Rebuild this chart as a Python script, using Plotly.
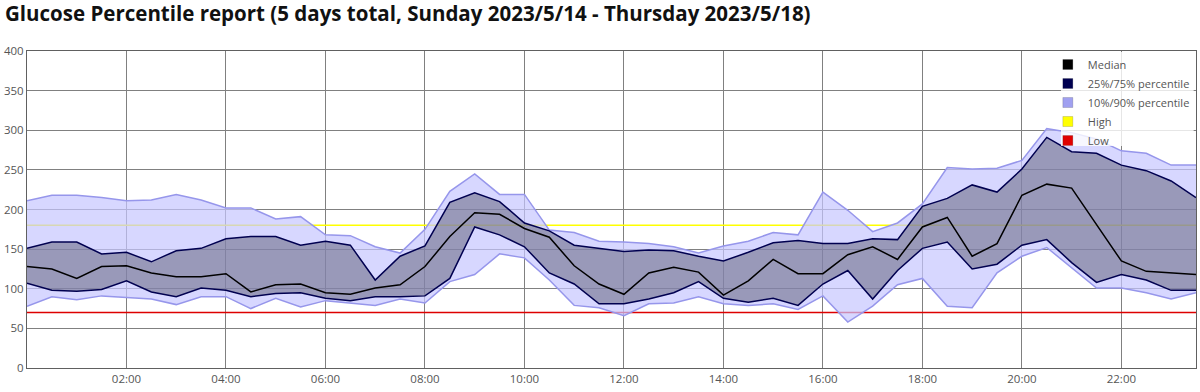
import plotly.graph_objects as go

# ---------------- data ----------------
TIMES = ["00:00", "00:30", "01:00", "01:30", "02:00", "02:30", "03:00", "03:30",
         "04:00", "04:30", "05:00", "05:30", "06:00", "06:30", "07:00", "07:30",
         "08:00", "08:30", "09:00", "09:30", "10:00", "10:30", "11:00", "11:30",
         "12:00", "12:30", "13:00", "13:30", "14:00", "14:30", "15:00", "15:30",
         "16:00", "16:30", "17:00", "17:30", "18:00", "18:30", "19:00", "19:30",
         "20:00", "20:30", "21:00", "21:30", "22:00", "22:30", "23:00", "23:30"]

P90 = [211, 218, 218, 215, 211, 212, 219, 212,
       202, 202, 188, 191, 168, 167, 153, 145,
       175, 223, 245, 219, 219, 174, 171, 160,
       159, 157, 153, 145, 154, 160, 171, 168,
       222, 199, 172, 183, 207, 253, 251, 252,
       262, 302, 297, 289, 274, 271, 256, 256]

P75 = [151, 159, 159, 144, 146, 134, 148, 151,
       163, 166, 166, 155, 160, 155, 111, 141,
       154, 209, 221, 210, 183, 173, 155, 151,
       147, 149, 148, 141, 135, 146, 158, 161,
       157, 157, 163, 162, 204, 214, 231, 222,
       251, 291, 273, 271, 256, 249, 236, 215]

MEDIAN = [128, 125, 113, 128, 129, 120, 115, 115,
          119, 96, 105, 106, 95, 93, 101, 105,
          128, 166, 196, 194, 176, 165, 129, 106,
          93, 120, 127, 121, 92, 110, 137, 119,
          119, 143, 153, 137, 178, 190, 141, 157,
          218, 232, 227, 181, 135, 122, 120, 118]

P25 = [107, 98, 97, 99, 110, 96, 90, 101,
       98, 90, 94, 95, 88, 85, 90, 90,
       91, 113, 178, 168, 153, 120, 106, 81,
       81, 87, 95, 109, 88, 83, 88, 79,
       106, 123, 87, 123, 151, 159, 125, 131,
       155, 162, 133, 108, 118, 111, 98, 98]

P10 = [78, 90, 86, 91, 89, 87, 80, 90,
       90, 75, 88, 77, 85, 82, 79, 87,
       82, 109, 118, 144, 139, 111, 79, 76,
       66, 81, 82, 90, 81, 79, 81, 74,
       91, 58, 78, 105, 113, 78, 76, 120,
       141, 152, 126, 101, 101, 95, 87, 95]

HIGH = 180
LOW = 70

Y_TICKS = [0, 50, 100, 150, 200, 250, 300, 350, 400]
X_TICK_LABELS = ["02:00", "04:00", "06:00", "08:00", "10:00",
                 "12:00", "14:00", "16:00", "18:00", "20:00", "22:00"]

TITLE = "Glucose Percentile report (5 days total, Sunday 2023/5/14 - Thursday 2023/5/18)"


def to_hours(t):
    h, m = t.split(":")
    return int(h) + int(m) / 60.0


x = [to_hours(t) for t in TIMES]
x_ticks = [to_hours(t) for t in X_TICK_LABELS]

FONT = "Open Sans, Noto Sans, DejaVu Sans, sans-serif"

fig = go.Figure()

# target lines (under the bands)
fig.add_trace(go.Scatter(x=[x[0], x[-1]], y=[HIGH, HIGH], mode="lines",
                         line=dict(color="#ffff00", width=1.5),
                         showlegend=False, hoverinfo="skip"))
fig.add_trace(go.Scatter(x=[x[0], x[-1]], y=[LOW, LOW], mode="lines",
                         line=dict(color="#dd0000", width=1.5),
                         showlegend=False, hoverinfo="skip"))

# 10/90 band
fig.add_trace(go.Scatter(x=x, y=P10, mode="lines",
                         line=dict(color="rgba(150,150,235,1)", width=1.5),
                         showlegend=False))
fig.add_trace(go.Scatter(x=x, y=P90, mode="lines", fill="tonexty",
                         fillcolor="rgba(198,198,255,0.7)",
                         line=dict(color="rgba(150,150,235,1)", width=1.5),
                         showlegend=False))

# 25/75 band
fig.add_trace(go.Scatter(x=x, y=P25, mode="lines",
                         line=dict(color="#000050", width=1.5),
                         showlegend=False))
fig.add_trace(go.Scatter(x=x, y=P75, mode="lines", fill="tonexty",
                         fillcolor="rgba(60,60,80,0.4)",
                         line=dict(color="#000050", width=1.5),
                         showlegend=False))

# median
fig.add_trace(go.Scatter(x=x, y=MEDIAN, mode="lines",
                         line=dict(color="#000000", width=1.5),
                         showlegend=False))

# legend swatches
legend_items = [("Median", "#000000"),
                ("25%/75% percentile", "#000050"),
                ("10%/90% percentile", "#a0a0f0"),
                ("High", "#ffff00"),
                ("Low", "#e00000")]
for name, col in legend_items:
    fig.add_trace(go.Scatter(x=[None], y=[None], mode="markers", name=name,
                             marker=dict(symbol="square", size=10, color=col,
                                         line=dict(color="rgba(0,0,0,0.3)", width=0.5))))

W, H = 1200, 392
ML, MR, MT, MB = 27, 4, 51, 24
pw = W - ML - MR
ph = H - MT - MB


def px_x(p):
    return (p - ML) / pw


def px_y(p):
    return (H - MB - p) / ph


fig.add_shape(type="rect", xref="paper", yref="paper",
              x0=px_x(1061), x1=0.998, y0=px_y(146), y1=px_y(52),
              fillcolor="rgba(255,255,255,0.8)", line=dict(width=0), layer="above")

fig.update_layout(
    width=W, height=H,
    margin=dict(l=ML, r=MR, t=MT, b=MB, pad=0, autoexpand=False),
    paper_bgcolor="white", plot_bgcolor="white",
    font=dict(family=FONT, size=11.5, color="#555555"),
    title=dict(text="<b>" + TITLE + "</b>", x=5 / W, xref="container", xanchor="left",
               y=1 - 14 / H, yref="container", yanchor="middle",
               font=dict(family=FONT, size=20.5, color="#111111")),
    legend=dict(x=0.999, y=px_y(50), xanchor="right", yanchor="top",
                bgcolor="rgba(0,0,0,0)", borderwidth=0, traceorder="normal",
                font=dict(family=FONT, size=11, color="#555555"),
                tracegroupgap=0),
    showlegend=True,
    hovermode=False,
)

fig.update_xaxes(range=[x[0], x[-1]], tickvals=x_ticks, ticktext=X_TICK_LABELS,
                 showgrid=True, gridcolor="#808080", gridwidth=1,
                 showline=True, linecolor="#606060", linewidth=1, mirror=True,
                 zeroline=False, ticks="", tickfont=dict(size=11.5, color="#555555"))
fig.update_yaxes(range=[0, 400], tickvals=Y_TICKS,
                 showgrid=True, gridcolor="#808080", gridwidth=1,
                 showline=True, linecolor="#606060", linewidth=1, mirror=True,
                 zeroline=False, ticks="", tickfont=dict(size=11.5, color="#555555"))

fig.write_html("out.html", config={"displayModeBar": False},
               post_script="document.body.style.margin='0';")
